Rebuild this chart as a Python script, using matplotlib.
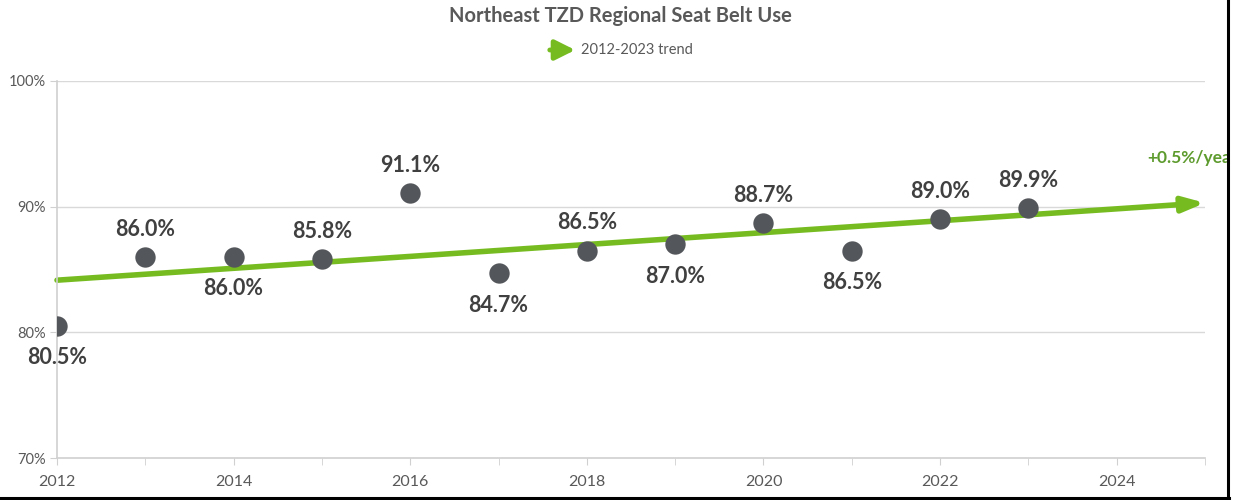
import matplotlib
matplotlib.use('Agg')
import matplotlib.pyplot as plt
from matplotlib.patches import Rectangle
from matplotlib.lines import Line2D

plt.rcParams['font.family'] = ['Lato', 'DejaVu Sans']

# data
years = [2012, 2013, 2014, 2015, 2016, 2017, 2018, 2019, 2020, 2021, 2022, 2023]
belt_use = [80.5, 86.0, 86.0, 85.8, 91.1, 84.7, 86.5, 87.0, 88.7, 86.5, 89.0, 89.9]
label_side = ['below', 'above', 'below', 'above', 'above', 'below',
              'above', 'below', 'above', 'below', 'above', 'above']
trend_years = [2012, 2025]
trend_vals = [84.15, 90.3]
trend_label = '+0.5%/year'
legend_label = '2012-2023 trend'
title = 'Northeast TZD Regional Seat Belt Use'
y_ticks = [70, 80, 90, 100]
x_ticks = [2012, 2014, 2016, 2018, 2020, 2022, 2024]

GREEN = '#76BC21'
DOT = '#53565A'
GRAY_TXT = '#595959'
AXIS = '#D0D0D0'

fig = plt.figure(figsize=(12.4, 5), dpi=100)
ax = fig.add_axes([57/1240, 1-458/500, (1205-57)/1240, (458-81)/500])

ax.set_xlim(2012, 2025)
ax.set_ylim(70, 100)

# gridlines
for y in y_ticks[1:]:
    ax.axhline(y, color='#D9D9D9', lw=1, zorder=0)

# trend arrow
ax.annotate('', xy=(trend_years[1], trend_vals[1]), xytext=(trend_years[0], trend_vals[0]),
            arrowprops=dict(arrowstyle='-|>,head_length=1.3,head_width=0.45',
                            color=GREEN, lw=4, shrinkA=0, shrinkB=0),
            annotation_clip=False, zorder=2)

ax.text(2024.35, 93.9, trend_label, color='#5E9B2E', fontsize=12.5,
        fontweight='bold', va='center', ha='left', clip_on=False)

# points
ax.scatter(years, belt_use, s=215, color=DOT, zorder=3, linewidths=0)

for x, v, side in zip(years, belt_use, label_side):
    off = 20 if side == 'above' else -23
    ax.annotate(f'{v:.1f}%', (x, v), xytext=(0, off), textcoords='offset points',
                ha='center', va='center', fontsize=15.5, fontweight='bold',
                color='#404040', zorder=4)

# axes styling
for s in ['top', 'right']:
    ax.spines[s].set_visible(False)
for s in ['left', 'bottom']:
    ax.spines[s].set_color(AXIS)
    ax.spines[s].set_linewidth(1.2)

ax.set_yticks(y_ticks)
ax.set_yticklabels([f'{t}%' for t in y_ticks])
ax.set_xticks(x_ticks)
ax.set_xticklabels([str(t) for t in x_ticks])
ax.set_xticks(range(2012, 2026), minor=True)
ax.tick_params(axis='y', length=5, color=AXIS, labelcolor=GRAY_TXT, labelsize=10.5, pad=3)
ax.tick_params(axis='x', which='both', length=5, color=AXIS, labelcolor=GRAY_TXT,
               labelsize=11.5, pad=7)

# title and legend
fig.text(0.5, 1-16/500, title, ha='center', va='center', fontsize=14.5,
         fontweight='bold', color=GRAY_TXT)
fig.add_artist(matplotlib.patches.FancyArrowPatch(
    (547/1240, 1-50/500), (578/1240, 1-50/500), transform=fig.transFigure,
    arrowstyle='-|>,head_length=6,head_width=3', color=GREEN, lw=3.5,
    mutation_scale=2))
fig.text(581/1240, 1-50/500, legend_label, ha='left', va='center', fontsize=10.5,
         color=GRAY_TXT)

# frame on the right and bottom edges
fig.add_artist(Rectangle((1229/1240, 0), 11/1240, 1, transform=fig.transFigure,
                         color='white', zorder=10))
fig.add_artist(Line2D([1227.5/1240, 1227.5/1240], [0, 1], transform=fig.transFigure,
                      color='black', lw=2.2, zorder=11))
fig.add_artist(Line2D([0, 1228.5/1240], [2/500, 2/500], transform=fig.transFigure,
                      color='black', lw=2.2, zorder=11))

fig.savefig('out.png', dpi=100, facecolor='white')
